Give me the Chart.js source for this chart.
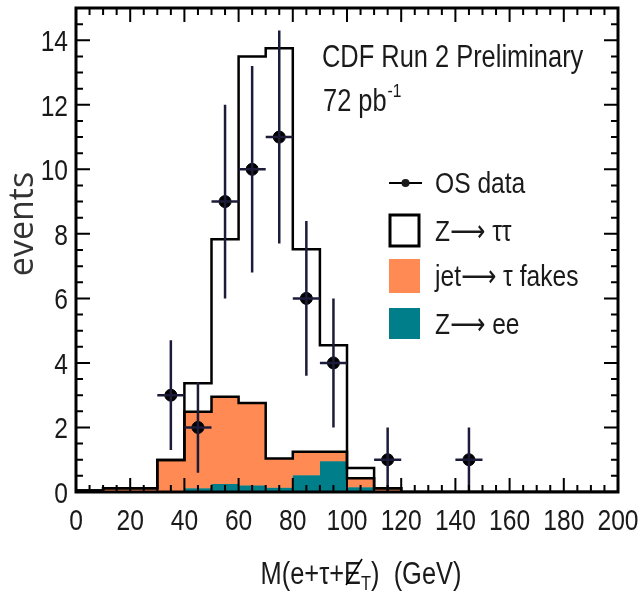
<!DOCTYPE html>
<html>
<head>
<meta charset="utf-8">
<script src="https://cdn.jsdelivr.net/npm/chart.js@4.4.0/dist/chart.umd.min.js"></script>
<style>
  html, body { margin: 0; padding: 0; background: #fff; }
  #wrap { width: 639px; height: 591px; position: relative; }
</style>
</head>
<body>
<div id="wrap"><canvas id="massChart"></canvas></div>
<script>
// histogram bins (lower edge, GeV), 10 GeV wide
const binLow = [0, 10, 20, 30, 40, 50, 60, 70, 80, 90, 100, 110, 120, 130, 140, 150, 160, 170, 180, 190];
const binTop = 200;
// per-process contributions, events per bin
const zeeVals  = [0, 0, 0, 0, 0.12, 0.25, 0.2, 0.13, 0.52, 0.95, 0.15, 0, 0, 0, 0, 0, 0, 0, 0, 0];
const fakeVals = [0.05, 0.12, 0.12, 0.99, 2.37, 2.7, 2.56, 0.91, 0.73, 0.3, 0.28, 0.12, 0, 0, 0, 0, 0, 0, 0, 0];
const zttVals  = [0, 0, 0, 0, 0.88, 4.88, 10.74, 12.71, 6.27, 3.3, 0.31, 0, 0, 0, 0, 0, 0, 0, 0, 0];
// OS data points
const dataX   = [35, 45, 55, 65, 75, 85, 95, 115, 145];
const dataY   = [3, 2, 9, 10, 11, 6, 4, 1, 1];
const dataErr = [1.7, 1.4, 3.0, 3.2, 3.3, 2.4, 2.0, 1.0, 1.0];
// axis ticks
const xTickVals = [0, 20, 40, 60, 80, 100, 120, 140, 160, 180, 200];
const yTickVals = [0, 2, 4, 6, 8, 10, 12, 14];

const labels = ['OS data', 'Z\u27f6 \u03c4\u03c4', 'jet\u27f6 \u03c4 fakes', 'Z\u27f6 ee'];
const orange = 'rgb(255,138,84)';
const teal = 'rgb(0,126,138)';
const face = "'Liberation Sans', 'DejaVu Sans', Arial, sans-serif";
const squeeze = 0.82;   // no condensed face installed, so squash it
const ink = '#1a1a1a';

// stacked tops
const zeeTop = zeeVals.slice();
const fakeTop = fakeVals.map((v, i) => v + zeeTop[i]);
const totalTop = zttVals.map((v, i) => v + fakeTop[i]);

function steps(vals) {
    const pts = binLow.map((x, i) => ({ x: x, y: vals[i] }));
    pts.push({ x: binTop, y: vals[vals.length - 1] });
    return pts;
}

// narrow text helper
function ntext(ctx, str, x, y, size, align) {
    ctx.save();
    ctx.font = size + 'px ' + face;
    ctx.translate(x, y);
    ctx.scale(squeeze, 1);
    ctx.textAlign = align || 'left';
    ctx.fillText(str, 0, 0);
    ctx.restore();
}
function nwidth(ctx, str, size) {
    ctx.save();
    ctx.font = size + 'px ' + face;
    const w = ctx.measureText(str).width * squeeze;
    ctx.restore();
    return w;
}

const framePlugin = {
    id: 'frame',
    afterDatasetsDraw(chart) {
        // error bars
        const ctx = chart.ctx;
        const xs = chart.scales.x, ys = chart.scales.y;
        ctx.save();
        ctx.strokeStyle = '#1c1c3a';
        ctx.lineWidth = 2.5;
        for (let i = 0; i < dataX.length; i++) {
            const px = xs.getPixelForValue(dataX[i]);
            const py = ys.getPixelForValue(dataY[i]);
            ctx.beginPath();
            ctx.moveTo(px, ys.getPixelForValue(dataY[i] + dataErr[i]));
            ctx.lineTo(px, ys.getPixelForValue(Math.max(0, dataY[i] - dataErr[i])));
            ctx.moveTo(xs.getPixelForValue(dataX[i] - 5), py);
            ctx.lineTo(xs.getPixelForValue(dataX[i] + 5), py);
            ctx.stroke();
        }
        ctx.restore();
    },
    afterDraw(chart) {
        const ctx = chart.ctx;
        const a = chart.chartArea;
        const xs = chart.scales.x, ys = chart.scales.y;
        ctx.save();
        ctx.strokeStyle = '#000';
        // ticks on all four sides, pointing in
        ctx.lineWidth = 2;
        ctx.beginPath();
        for (let v = 0; v <= 200; v += 5) {
            const px = xs.getPixelForValue(v);
            const len = v % 20 === 0 ? 14 : 7;
            ctx.moveTo(px, a.bottom); ctx.lineTo(px, a.bottom - len);
            ctx.moveTo(px, a.top); ctx.lineTo(px, a.top + len);
        }
        for (let v = 0; v <= 15; v += 0.5) {
            const py = ys.getPixelForValue(v);
            const len = v % 2 === 0 ? 14 : 7;
            ctx.moveTo(a.left, py); ctx.lineTo(a.left + len, py);
            ctx.moveTo(a.right, py); ctx.lineTo(a.right - len, py);
        }
        ctx.stroke();
        ctx.lineWidth = 3;
        ctx.strokeRect(a.left, a.top, a.right - a.left, a.bottom - a.top);

        ctx.fillStyle = ink;
        ctx.textBaseline = 'alphabetic';

        // tick labels
        xTickVals.forEach(v => ntext(ctx, String(v), xs.getPixelForValue(v), 530, 30, 'center'));
        yTickVals.forEach(v => ntext(ctx, String(v), 68, ys.getPixelForValue(v) + 11, 30, 'right'));

        // texts
        ntext(ctx, 'CDF Run 2 Preliminary', 322, 67, 31);
        ntext(ctx, '72 pb', 323, 111, 31);
        ntext(ctx, '-1', 323 + nwidth(ctx, '72 pb', 31) + 1, 97, 19);

        // legend
        const tx = 435;
        ctx.lineWidth = 2;
        ctx.beginPath();
        ctx.moveTo(389, 183); ctx.lineTo(422, 183);
        ctx.stroke();
        ctx.beginPath();
        ctx.arc(405.5, 183, 4, 0, Math.PI * 2);
        ctx.fill();
        ntext(ctx, labels[0], tx, 193, 30);

        ctx.lineWidth = 3;
        ctx.strokeRect(390, 215, 29, 31);
        ntext(ctx, labels[1], tx, 241, 30);

        ctx.fillStyle = orange;
        ctx.fillRect(389, 259, 31, 34);
        ctx.fillStyle = ink;
        ntext(ctx, labels[2], tx, 286, 30);

        ctx.fillStyle = teal;
        ctx.fillRect(389, 308, 31, 31);
        ctx.fillStyle = ink;
        ntext(ctx, labels[3], tx, 334, 30);

        // y title
        ctx.save();
        ctx.translate(33, 224);
        ctx.rotate(-Math.PI / 2);
        ctx.textAlign = 'center';
        ctx.fillStyle = '#333';
        ctx.font = '34px "Open Sans", sans-serif';
        ctx.fillText('events', 0, 0);
        ctx.restore();

        // x title with slashed E and subscript T
        const p1 = 'M(e+\u03c4+', p2 = 'E', p3 = 'T', p4 = ')  (GeV)';
        const w1 = nwidth(ctx, p1, 31), w2 = nwidth(ctx, p2, 31), w3 = nwidth(ctx, p3, 20), w4 = nwidth(ctx, p4, 31);
        let x = 361 - (w1 + w2 + w3 + w4) / 2;
        const base = 584;
        ntext(ctx, p1, x, base, 31); x += w1;
        ntext(ctx, p2, x, base, 31);
        ctx.lineWidth = 1.6;
        ctx.beginPath();
        ctx.moveTo(x + 2, base + 1); ctx.lineTo(x + w2 + 1, base - 25);
        ctx.stroke();
        x += w2;
        ntext(ctx, p3, x, base + 6, 20); x += w3;
        ntext(ctx, p4, x, base, 31);
        ctx.restore();
    }
};

const ctx = document.getElementById('massChart').getContext('2d');
new Chart(ctx, {
    type: 'line',
    data: {
        datasets: [
            {
                type: 'scatter',
                label: labels[0],
                data: dataX.map((x, i) => ({ x: x, y: dataY[i] })),
                backgroundColor: '#000',
                borderColor: '#000',
                pointRadius: 6,
                pointHoverRadius: 6
            },
            {
                label: labels[1],
                data: steps(totalTop),
                stepped: true,
                borderColor: '#000',
                borderWidth: 2.5,
                pointRadius: 0,
                fill: false
            },
            {
                label: labels[2],
                data: steps(fakeTop),
                stepped: true,
                borderColor: '#000',
                borderWidth: 2.5,
                backgroundColor: orange,
                pointRadius: 0,
                fill: '+1'
            },
            {
                label: labels[3],
                data: steps(zeeTop),
                stepped: true,
                borderColor: teal,
                borderWidth: 1,
                backgroundColor: teal,
                pointRadius: 0,
                fill: 'origin'
            }
        ]
    },
    options: {
        responsive: true,
        maintainAspectRatio: false,
        devicePixelRatio: 1,
        animation: false,
        layout: { padding: { top: 8, right: 21, left: 0, bottom: 0 } },
        plugins: {
            legend: { display: false },
            tooltip: { enabled: false }
        },
        scales: {
            x: {
                type: 'linear',
                min: 0,
                max: 200,
                grid: { display: false, drawTicks: false },
                border: { display: false },
                afterFit: s => { s.height = 99; },
                ticks: { display: false }
            },
            y: {
                min: 0,
                max: 15,
                grid: { display: false, drawTicks: false },
                border: { display: false },
                afterFit: s => { s.width = 76; },
                ticks: { display: false }
            }
        }
    },
    plugins: [framePlugin]
});
</script>
</body>
</html>
